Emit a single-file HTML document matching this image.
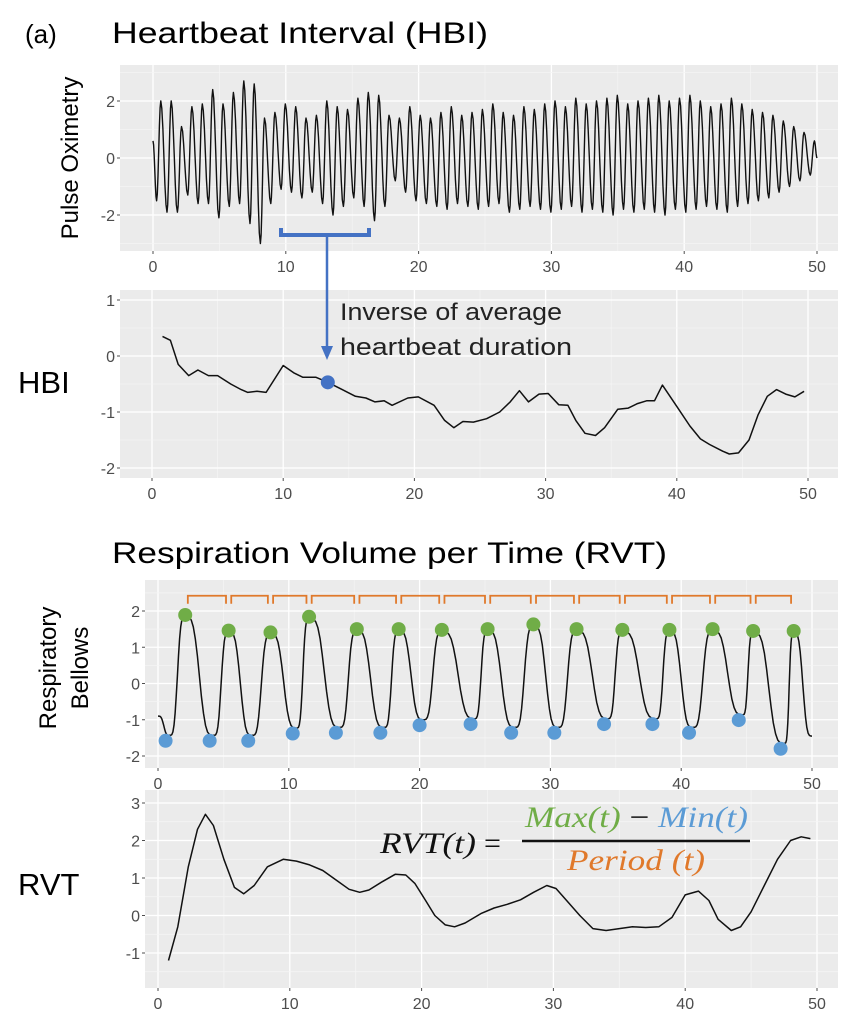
<!DOCTYPE html>
<html><head><meta charset="utf-8"><style>
body{margin:0;background:#fff;}
svg{display:block;font-family:"Liberation Sans",sans-serif;}
.tk{fill:#4d4d4d;font-size:16px;}
</style></head><body>
<svg id="fig" width="854" height="1020" viewBox="0 0 854 1020">
<text x="25" y="43" font-size="26">(a)</text>
<text x="112" y="43" font-size="30" textLength="376" lengthAdjust="spacingAndGlyphs">Heartbeat Interval (HBI)</text>
<text x="112" y="563" font-size="30" textLength="555" lengthAdjust="spacingAndGlyphs">Respiration Volume per Time (RVT)</text>
<text transform="translate(78,158) rotate(-90)" text-anchor="middle" font-size="24">Pulse Oximetry</text>
<text x="18" y="393" font-size="31">HBI</text>
<text transform="translate(56,668) rotate(-90)" text-anchor="middle" font-size="24">Respiratory</text>
<text transform="translate(88,668) rotate(-90)" text-anchor="middle" font-size="24">Bellows</text>
<text x="18" y="895" font-size="31">RVT</text>
<g id="panels"></g>
</svg>
<script>
const NS="http://www.w3.org/2000/svg";
const xTicks=[0,10,20,30,40,50];
const pulseTicks=[-2,0,2];
const hbiTicks=[-2,-1,0,1];
const respTicks=[-2,-1,0,1,2];
const rvtTicks=[-1,0,1,2,3];
const pulsePeaks=[2.0,2.0,1.1,1.8,1.9,2.4,1.9,2.3,2.7,2.6,1.4,1.6,1.9,1.8,1.4,1.5,2.0,1.8,1.7,2.1,2.3,2.2,1.5,1.4,1.8,1.5,1.4,1.6,1.8,1.5,1.6,1.7,1.9,1.6,1.5,1.8,1.7,1.9,2.0,1.8,2.1,1.9,2.0,2.1,2.2,1.9,2.0,2.1,2.2,2.0,2.1,2.2,2.0,1.8,1.9,2.1,1.9,1.7,1.6,1.5,1.3,1.1,0.9,0.6];
const pulseTroughs=[-1.5,-1.9,-1.9,-1.3,-1.6,-1.6,-2.1,-1.7,-1.6,-2.3,-3.0,-1.6,-1.1,-1.2,-1.4,-1.2,-1.6,-2.0,-1.7,-1.4,-1.7,-2.2,-1.7,-0.8,-1.2,-1.5,-1.6,-1.7,-1.8,-1.6,-1.7,-1.8,-1.7,-1.6,-1.9,-1.8,-1.7,-1.8,-1.9,-1.8,-1.7,-1.9,-1.8,-1.9,-2.0,-1.8,-1.9,-1.8,-1.9,-2.0,-1.8,-1.9,-1.8,-1.7,-1.8,-1.9,-1.7,-1.6,-1.5,-1.4,-1.2,-1.0,-0.8,-0.6];
const hbiX=[0.8,1.4,2.0,2.8,3.5,4.3,5.0,6.0,6.8,7.3,8.0,8.7,10.0,10.8,11.5,12.5,13.4,14.5,15.5,16.3,17.0,17.7,18.3,19.5,20.3,21.5,22.3,23.0,23.7,24.5,25.5,26.5,27.3,28.0,28.7,29.5,30.2,31.0,31.7,32.3,33.0,33.8,34.5,35.5,36.3,37.0,37.7,38.3,38.9,40.0,41.0,41.8,42.5,43.5,44.0,44.7,45.5,46.2,46.9,47.6,48.3,49.0,49.7];
const hbiY=[0.35,0.28,-0.15,-0.35,-0.25,-0.35,-0.35,-0.5,-0.6,-0.65,-0.63,-0.65,-0.17,-0.3,-0.38,-0.38,-0.47,-0.6,-0.72,-0.75,-0.82,-0.8,-0.88,-0.75,-0.73,-0.88,-1.15,-1.28,-1.17,-1.18,-1.12,-1.0,-0.82,-0.62,-0.82,-0.68,-0.67,-0.87,-0.88,-1.15,-1.38,-1.42,-1.28,-0.95,-0.93,-0.85,-0.8,-0.8,-0.52,-0.9,-1.25,-1.48,-1.58,-1.7,-1.75,-1.73,-1.5,-1.05,-0.72,-0.6,-0.68,-0.73,-0.63];
const hbiMarkX=13.4, hbiMarkY=-0.47;
const peakX=[2.08,5.4,8.6,11.55,15.2,18.4,21.7,25.2,28.7,32.0,35.5,39.1,42.4,45.5,48.6];
const peakY=[1.89,1.46,1.41,1.84,1.5,1.5,1.48,1.5,1.63,1.5,1.48,1.48,1.5,1.45,1.45];
const troughX=[0.58,3.95,6.9,10.3,13.6,17.0,20.0,23.9,27.0,30.3,34.1,37.8,40.6,44.4,47.6];
const troughY=[-1.58,-1.58,-1.58,-1.38,-1.36,-1.36,-1.15,-1.12,-1.36,-1.36,-1.12,-1.12,-1.36,-1.01,-1.8];
const rvtX=[0.8,1.5,2.3,3.0,3.6,4.2,5.0,5.8,6.5,7.3,8.3,9.5,10.5,11.5,12.5,13.5,14.5,15.3,16.0,17.0,18.0,18.8,19.5,20.3,21.0,21.8,22.5,23.3,24.5,25.5,26.5,27.5,28.5,29.5,30.2,31.0,32.0,33.0,34.0,35.0,36.0,37.0,38.0,39.0,40.0,41.0,41.8,42.5,43.5,44.2,45.0,46.0,47.0,48.0,48.8,49.5];
const rvtY=[-1.2,-0.3,1.3,2.3,2.7,2.4,1.5,0.75,0.58,0.8,1.3,1.5,1.45,1.35,1.2,0.95,0.7,0.62,0.68,0.9,1.1,1.08,0.85,0.4,0.0,-0.25,-0.3,-0.2,0.05,0.2,0.3,0.42,0.62,0.8,0.72,0.4,0.0,-0.35,-0.4,-0.35,-0.3,-0.32,-0.3,-0.05,0.55,0.65,0.4,-0.1,-0.4,-0.3,0.1,0.8,1.5,2.0,2.1,2.05];

const root=document.getElementById('panels');
function mk(tag,attrs,parent){const e=document.createElementNS(NS,tag);for(const k in attrs)e.setAttribute(k,attrs[k]);(parent||root).appendChild(e);return e;}
function panel(name,box,x0px,x50px,yTicks,yPx){
  const g=mk('g',{});
  
  
  const sx=v=>x0px+(x50px-x0px)*v/50;
  const y0=yTicks[0],y1=yTicks[yTicks.length-1];
  const sy=v=>yPx[0]+(yPx[1]-yPx[0])*(v-y0)/(y1-y0);
  const bg=mk('rect',{x:box[0],y:box[1],width:box[2]-box[0],height:box[3]-box[1],fill:'#ebebeb'},g);
  
  
  for(let i=0;i<xTicks.length;i++){
    const px=sx(xTicks[i]);
    mk('line',{x1:px,x2:px,y1:box[1],y2:box[3],stroke:'#fff','stroke-width':1.3},g);
    if(i<xTicks.length-1){const m=sx(xTicks[i]+5);mk('line',{x1:m,x2:m,y1:box[1],y2:box[3],stroke:'#f5f5f5','stroke-width':0.7},g);}
    mk('line',{x1:px,x2:px,y1:box[3],y2:box[3]+3,stroke:'#4d4d4d'},g);
    const t=mk('text',{x:px,y:box[3]+21,'text-anchor':'middle',class:'tk'},g);
    t.textContent=xTicks[i];
    
    
  }
  const step=yTicks[1]-yTicks[0];
  for(let i=0;i<yTicks.length;i++){
    const py=sy(yTicks[i]);
    mk('line',{x1:box[0],x2:box[2],y1:py,y2:py,stroke:'#fff','stroke-width':1.3},g);
    const m=sy(yTicks[i]+step/2);
    if(m>box[1])mk('line',{x1:box[0],x2:box[2],y1:m,y2:m,stroke:'#f5f5f5','stroke-width':0.7},g);
    const m2=sy(yTicks[0]-step/2); if(i==0&&m2<box[3])mk('line',{x1:box[0],x2:box[2],y1:m2,y2:m2,stroke:'#f5f5f5','stroke-width':0.7},g);
    mk('line',{x1:box[0]-3,x2:box[0],y1:py,y2:py,stroke:'#4d4d4d'},g);
    const t=mk('text',{x:box[0]-5,y:py+6,'text-anchor':'end',class:'tk'},g);
    t.textContent=yTicks[i];
    
    
  }
  return {g,sx,sy};
}
function line(g,pts,name,w){const p=mk('polyline',{points:pts.map(q=>q[0].toFixed(1)+','+q[1].toFixed(1)).join(' '),fill:'none',stroke:'#111','stroke-width':w||1.5,'stroke-linejoin':'round'},g);
  
  return p;}
function cosInterp(knots,n,sharp){const out=[];for(let i=0;i<knots.length-1;i++){const a=knots[i],b=knots[i+1];for(let k=0;k<n;k++){let f=(1-Math.cos(Math.PI*k/n))/2;if(sharp)f=(1-Math.cos(Math.PI*f))/2;out.push([a[0]+(b[0]-a[0])*k/n,a[1]+(b[1]-a[1])*f]);}}out.push(knots[knots.length-1]);return out;}

// Panel 1 pulse
const P1=panel('pulse',[120,65,838,251],153,817,pulseTicks,[215,101]);
{const P=50/pulsePeaks.length;const kn=[[0,0.6]];
 for(let i=0;i<pulsePeaks.length;i++){kn.push([(i+0.35)*P,pulseTroughs[i]]);kn.push([(i+0.75)*P,pulsePeaks[i]]);}
 kn.push([50,0]);
 line(P1.g,cosInterp(kn,6,false).map(q=>[P1.sx(q[0]),P1.sy(q[1])]),'pulse-line',1.4);}
// Panel 2 HBI
const P2=panel('hbi',[120,290,838,478],152,808,hbiTicks,[468,300]);
line(P2.g,hbiX.map((v,i)=>[P2.sx(v),P2.sy(hbiY[i])]),'hbi-line',1.5);
// Panel 3 respiratory
const P3=panel('resp',[145,580,838,768],158,812,respTicks,[756,611]);
{const kn=[[0,-0.9]];for(let i=0;i<peakX.length;i++){kn.push([troughX[i]+0.3,troughY[i]+0.15]);kn.push([peakX[i],peakY[i]-0.05]);}kn.push([50,-1.45]);
 line(P3.g,cosInterp(kn,14,true).map(q=>[P3.sx(q[0]),P3.sy(q[1])]),'resp-line',1.5);
 for(let i=0;i<peakX.length-1;i++){const a=P3.sx(peakX[i]+0.2),b=P3.sx(peakX[i+1]-0.2),yt=P3.sy(2.42),yb=P3.sy(2.2);
  const br=mk('path',{d:`M${a},${yb}L${a},${yt}L${b},${yt}L${b},${yb}`,fill:'none',stroke:'#e0792b','stroke-width':1.8},P3.g);
  
  }
 for(let i=0;i<peakX.length;i++){const c=mk('circle',{cx:P3.sx(peakX[i]),cy:P3.sy(peakY[i]),r:7,fill:'#70ad47'},P3.g);
  
  }
 for(let i=0;i<troughX.length;i++){const c=mk('circle',{cx:P3.sx(troughX[i]),cy:P3.sy(troughY[i]),r:7,fill:'#5b9bd5'},P3.g);
  
  }
}
// Panel 4 RVT
const P4=panel('rvt',[145,790,838,988],158,817,rvtTicks,[953,803]);
line(P4.g,rvtX.map((v,i)=>[P4.sx(v),P4.sy(rvtY[i])]),'rvt-line',1.5);

// annotation: blue bracket + arrow
{const ann=mk('g',{});
 
 
 mk('path',{d:'M281,228 L281,235 L369,235 L369,228',fill:'none',stroke:'#4472c4','stroke-width':4},ann);
 const mx=P2.sx(hbiMarkX);
 mk('line',{x1:327,y1:237,x2:327,y2:348,stroke:'#4472c4','stroke-width':2.5},ann);
 mk('path',{d:'M321,346 L333,346 L327,360 Z',fill:'#4472c4'},ann);
 const dot=mk('circle',{cx:mx,cy:P2.sy(hbiMarkY),r:7,fill:'#4472c4'},ann);
 
 
 const t1=mk('text',{x:340,y:320,'font-size':24,fill:'#222',textLength:222,lengthAdjust:'spacingAndGlyphs'},ann);t1.textContent='Inverse of average';
 
 
 const t2=mk('text',{x:340,y:355,'font-size':24,fill:'#222',textLength:232,lengthAdjust:'spacingAndGlyphs'},ann);t2.textContent='heartbeat duration';
 
 
}
// formula
{const f=mk('g',{'font-family':'"Liberation Serif",serif','font-style':'italic','font-size':30});
 
 
 const a=mk('text',{x:380,y:853,textLength:96,lengthAdjust:'spacingAndGlyphs',fill:'#111'},f);a.textContent='RVT(t)';
 const eq=mk('text',{x:484,y:853,'font-style':'normal',fill:'#111'},f);eq.textContent='=';
 mk('line',{x1:522,x2:750,y1:841,y2:841,stroke:'#111','stroke-width':2.5},f);
 const n=mk('text',{x:525,y:827,textLength:223,lengthAdjust:'spacingAndGlyphs'},f);
 const s1=mk('tspan',{fill:'#70ad47'},n);s1.textContent='Max(t) ';
 const s2=mk('tspan',{fill:'#111','font-style':'normal'},n);s2.textContent='− ';
 const s3=mk('tspan',{fill:'#5b9bd5'},n);s3.textContent='Min(t)';
 const d=mk('text',{x:567,y:870,textLength:138,lengthAdjust:'spacingAndGlyphs',fill:'#e0792b'},f);d.textContent='Period (t)';
}
</script>
</body></html>
